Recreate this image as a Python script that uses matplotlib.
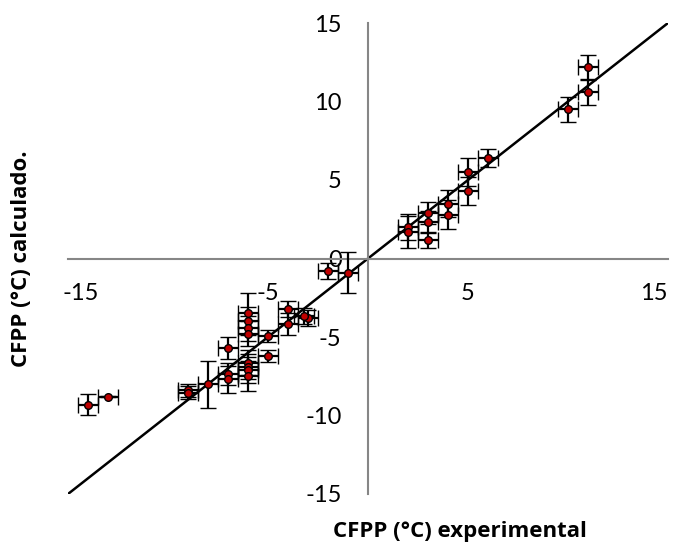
import matplotlib as mplt
mplt.use("Agg")
import matplotlib.pyplot as plt

# experimental vs calculated CFPP values (°C)
cfpp_exp = [11.0, 11.0, 10.0, 6.0, 5.0, 5.0, 4.0, 4.0, 3.0, 3.0, 3.0, 2.0, 2.0,
            -1.0, -2.0, -3.0, -3.2, -4.0, -4.0, -5.0, -5.0,
            -6.0, -6.0, -6.0, -6.0, -6.0, -6.0, -6.0, -6.0,
            -7.0, -7.0, -7.0, -8.0, -9.0, -9.0, -13.0, -14.0]
cfpp_calc = [12.2, 10.6, 9.5, 6.4, 5.5, 4.3, 3.5, 2.8, 2.9, 2.3, 1.2, 2.0, 1.7,
             -0.9, -0.8, -3.8, -3.67, -3.2, -4.2, -4.95, -6.2,
             -3.5, -4.0, -4.45, -4.8, -6.65, -6.9, -7.1, -7.5,
             -5.7, -7.35, -7.7, -8.0, -8.4, -8.55, -8.8, -9.3]
err_exp = [0.5] * len(cfpp_exp)
err_calc = [0.75, 0.8, 0.8, 0.6, 0.9, 0.9, 0.85, 0.9, 0.7, 0.7, 0.5, 0.85, 1.0,
            1.3, 0.5, 0.5, 0.5, 0.5, 0.7, 0.4, 0.4,
            1.3, 0.9, 0.8, 0.8, 0.8, 0.8, 0.8, 0.95,
            0.7, 0.7, 0.85, 1.5, 0.4, 0.4, 0.05, 0.65]

line_x = [-15, 15]
x_ticks = [-15, -5, 5, 15]
y_ticks = [-15, -10, -5, 0, 5, 10, 15]

plt.rcParams["font.family"] = ["Lato", "DejaVu Sans"]

fig = plt.figure(figsize=(6.84, 5.46), dpi=100)
ax = fig.add_axes([68 / 684, 1 - 494 / 546, 600 / 684, 471 / 546])

# axes crossing at the origin
ax.spines["left"].set_position(("data", 0))
ax.spines["bottom"].set_position(("data", 0))
ax.spines["top"].set_visible(False)
ax.spines["right"].set_visible(False)
for s in ("left", "bottom"):
    ax.spines[s].set_color("#868686")
    ax.spines[s].set_linewidth(1.5)

ax.set_xlim(-15, 15)
ax.set_ylim(-15, 15)

# trend line
ax.plot(line_x, line_x, color="black", linewidth=1.8, zorder=2)

# points with error bars
ax.errorbar(cfpp_exp, cfpp_calc, xerr=err_exp, yerr=err_calc,
            fmt="o", color="black", ecolor="black", elinewidth=1.6,
            capsize=5.5, capthick=1.6, markersize=5.5,
            markerfacecolor="#C00000", markeredgecolor="black",
            markeredgewidth=1.0, zorder=3)

# ticks
ax.tick_params(length=0)
ax.set_yticks(y_ticks)
ax.set_yticklabels([str(v) for v in y_ticks], fontsize=17)
ax.tick_params(axis="y", pad=19)
ax.set_xticks([])
for v in x_ticks:
    ha = "center"
    dx = 0
    if v == x_ticks[0]:
        ha = "left"
        dx = -0.3
    elif v == x_ticks[-1]:
        ha = "right"
    ax.text(v + dx, -2.2, str(v), fontsize=17, ha=ha, va="center")

# axis titles
fig.text(22 / 684, 1 - 259 / 546, "CFPP (°C) calculado.", rotation=90,
         fontsize=16, fontweight="bold", family=["Open Sans", "DejaVu Sans"],
         ha="center", va="center")
fig.text(460 / 684, 1 - 531 / 546, "CFPP (°C) experimental",
         fontsize=16, fontweight="bold", family=["Open Sans", "DejaVu Sans"],
         ha="center", va="center")

plt.savefig("out.png", dpi=100, format="png")
